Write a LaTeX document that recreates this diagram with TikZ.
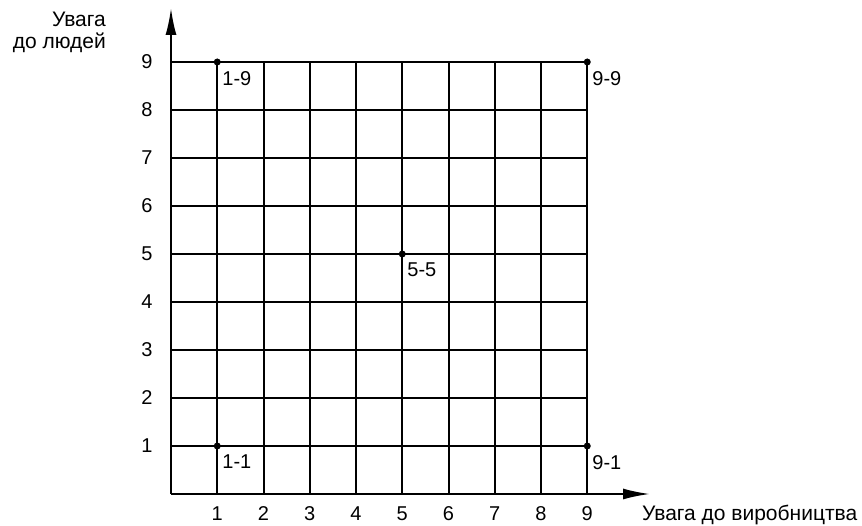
\documentclass[tikz,border=0pt]{standalone}
\usepackage{fontspec}
\setmainfont{Liberation Sans}
\usetikzlibrary{arrows.meta,positioning}

\tikzset{
  axisline/.style={line width=2pt, -{Latex[length=27pt,width=11pt]}},
  gridline/.style={line width=2pt},
  dotmark/.style={circle, fill=black, inner sep=0pt, minimum size=7pt},
  ticklabel/.style={inner sep=0pt, font=\fontsize{20}{24}\selectfont},
  axistitle/.style={inner sep=0pt, font=\fontsize{21}{22}\selectfont},
  pointlabel/.style={anchor=north west, inner sep=0pt, xshift=5pt, yshift=-9pt,
    font=\fontsize{20}{24}\selectfont}
}

\begin{document}
\begin{tikzpicture}[x=46.25pt, y=48pt]
  \useasboundingbox (-171pt,-32pt) rectangle (691pt,494pt);
  \coordinate (O) at (0,0);
  \coordinate (xtip) at (10.357,0);
  \coordinate (ytip) at (0,10.125);
  % grid
  \foreach \i in {1,...,9} {
    \coordinate (xb\i) at (\i,0);
    \coordinate (xt\i) at (\i,9);
    \coordinate (yl\i) at (0,\i);
    \coordinate (yr\i) at (9,\i);
    \draw[gridline] (xb\i) -- (xt\i);
    \draw[gridline] (yl\i) -- (yr\i);
    \node[ticklabel, anchor=base, yshift=-27pt] (xlab\i) at (xb\i) {\i};
    \node[ticklabel, anchor=center, xshift=-24pt] (ylab\i) at (yl\i) {\i};
  }
  % axes
  \draw[axisline] (O) -- (xtip);
  \draw[axisline] (O) -- (ytip);
  \node[axistitle, anchor=base west, xshift=-8pt, yshift=-26.5pt] (xtitle) at (xtip) {Увага до виробництва};
  \node[axistitle, anchor=north east, align=right, xshift=-65pt, yshift=-3.5pt] (ytitle) at (ytip) {Увага\\до людей};
  % marked points
  \node[dotmark] (p11) at (1,1) {};
  \node[dotmark] (p19) at (1,9) {};
  \node[dotmark] (p55) at (5,5) {};
  \node[dotmark] (p99) at (9,9) {};
  \node[dotmark] (p91) at (9,1) {};
  \node[pointlabel] at (p11.center) {1-1};
  \node[pointlabel] at (p19.center) {1-9};
  \node[pointlabel] at (p55.center) {5-5};
  \node[pointlabel] at (p99.center) {9-9};
  \node[pointlabel] at (p91.center) {9-1};
\end{tikzpicture}
\end{document}
